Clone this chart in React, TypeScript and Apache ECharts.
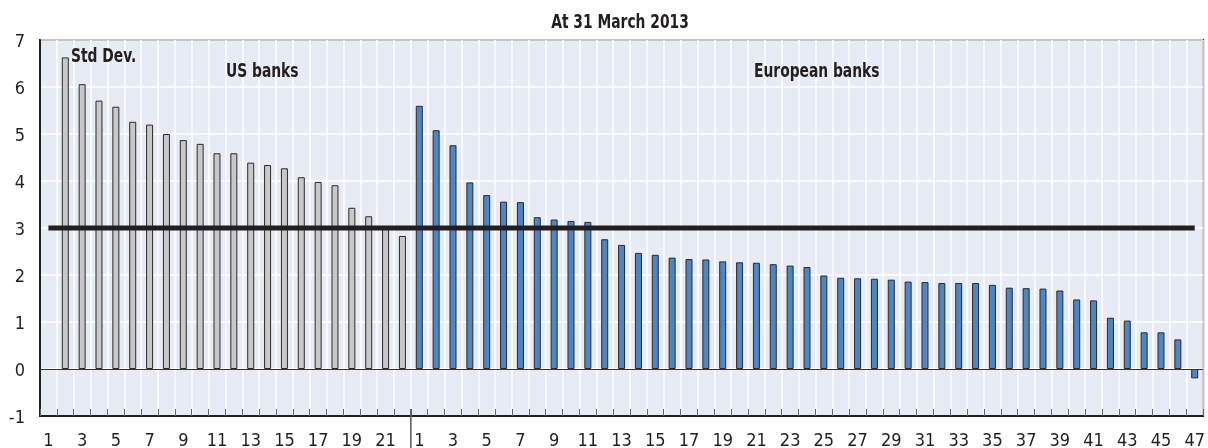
import React, { useEffect, useRef } from "react";
import * as echarts from "echarts";

const FONT = '"Liberation Sans Narrow", "Arial Narrow", "DejaVu Sans Condensed", sans-serif';
const INK = "#231f20";

const titleText = "At 31 March 2013";
const usLabel = "US banks";
const euLabel = "European banks";
const stdLabel = "Std Dev.";

// US banks: slot 1 is empty, bars in slots 2..22
const usValues: (number | null)[] = [
  null, 6.63, 6.06, 5.71, 5.58, 5.26, 5.2, 5.0, 4.87, 4.79, 4.59, 4.59, 4.39,
  4.34, 4.27, 4.08, 3.98, 3.91, 3.43, 3.25, 2.99, 2.83,
];

// European banks 1..47
const euValues: number[] = [
  5.6, 5.08, 4.76, 3.97, 3.7, 3.56, 3.55, 3.23, 3.18, 3.15, 3.13, 2.76, 2.64,
  2.47, 2.43, 2.37, 2.34, 2.33, 2.29, 2.27, 2.26, 2.23, 2.2, 2.17, 1.99, 1.94,
  1.93, 1.92, 1.9, 1.86, 1.85, 1.83, 1.83, 1.83, 1.79, 1.73, 1.72, 1.71, 1.67,
  1.48, 1.46, 1.09, 1.03, 0.78, 0.78, 0.63, -0.2,
];

const stdDevThreshold = 3;

const usCats = usValues.map((_, i) => "US" + (i + 1));
const euCats = euValues.map((_, i) => "EU" + (i + 1));
const categories = [...usCats, ...euCats];

export default function App() {
  const ref = useRef<HTMLDivElement>(null);
  useEffect(() => {
    if (!ref.current) return;
    const chart = echarts.init(ref.current, null, { renderer: "svg" });
    const nUs = usValues.length;
    const usData = categories.map((_, i) => (i < nUs ? usValues[i] : null));
    const euData = categories.map((_, i) => (i >= nUs ? euValues[i - nUs] : null));
    const lineData = categories.map(() => stdDevThreshold);

    chart.setOption({
      animation: false,
      grid: {
        left: 40,
        right: 4,
        top: 40,
        bottom: 30.5,
        show: true,
        backgroundColor: "#e7ebf6",
        borderColor: INK,
        borderWidth: 2,
        z: 0,
      },
      xAxis: {
        type: "category",
        data: categories,
        boundaryGap: true,
        axisLine: { show: true, onZero: false, lineStyle: { color: INK, width: 2 } },
        axisTick: {
          show: true,
          inside: true,
          length: 7,
          interval: 0,
          lineStyle: { color: "#666", width: 1 },
        },
        axisLabel: {
          interval: 1,
          margin: 14,
          color: INK,
          fontFamily: FONT,
          fontSize: 18,
          formatter: (v: string) => v.replace(/^(US|EU)/, ""),
        },
        splitLine: { show: true, interval: 0, lineStyle: { color: "#ffffff", width: 1.5 } },
      },
      yAxis: {
        type: "value",
        min: -1,
        max: 7,
        interval: 1,
        axisLine: { show: true, lineStyle: { color: INK, width: 2 } },
        axisTick: { show: false },
        axisLabel: { margin: 15, color: INK, fontFamily: FONT, fontSize: 18 },
        splitLine: { show: true, lineStyle: { color: "#ffffff", width: 1.5 } },
      },
      series: [
        {
          name: "US banks",
          type: "bar",
          data: usData,
          barWidth: 7,
          barGap: "-100%",
          itemStyle: { color: "#c8c8c8", borderColor: "#2a2a2a", borderWidth: 1 },
          markLine: {
            silent: true,
            symbol: "none",
            label: { show: false },
            lineStyle: { color: "#333", width: 1, type: "solid" },
            data: [{ yAxis: 0 }],
          },
        },
        {
          name: "European banks",
          type: "bar",
          data: euData,
          barWidth: 7,
          barGap: "-100%",
          itemStyle: { color: "#4a86c8", borderColor: "#2a2a2a", borderWidth: 1 },
        },
        {
          name: "Std Dev.",
          type: "line",
          data: lineData,
          symbol: "none",
          z: 5,
          lineStyle: { color: INK, width: 5, cap: "butt" },
        },
      ],
    });

    const p1 = chart.convertToPixel({ xAxisIndex: 0 }, euCats[0]) as number;
    const p0 = chart.convertToPixel({ xAxisIndex: 0 }, usCats[nUs - 1]) as number;
    const sepX = (p0 + p1) / 2;
    const yTop = chart.convertToPixel({ yAxisIndex: 0 }, 7) as number;
    const yBottom = chart.convertToPixel({ yAxisIndex: 0 }, -1) as number;

    const txt = (text: string, x: number, y: number, align = "left") => ({
      type: "text",
      x,
      y,
      scaleX: 0.77,
      z: 10,
      style: {
        text,
        fill: INK,
        font: `bold 20px ${FONT}`,
        align,
        verticalAlign: "middle",
      },
    });

    chart.setOption({
      graphic: [
        txt(titleText, 620, yTop - 19, "center"),
        txt(stdLabel, 71, 55),
        txt(usLabel, 226, 70),
        txt(euLabel, 754, 70),
        {
          type: "line",
          z: 10,
          shape: { x1: sepX, y1: yBottom - 7, x2: sepX, y2: 448 },
          style: { stroke: "#555", lineWidth: 1.5 },
        },
      ],
    });

    return () => chart.dispose();
  }, []);

  return (
    <div
      ref={ref}
      style={{ position: "fixed", left: 0, top: 0, width: 1208, height: 448 }}
    />
  );
}
